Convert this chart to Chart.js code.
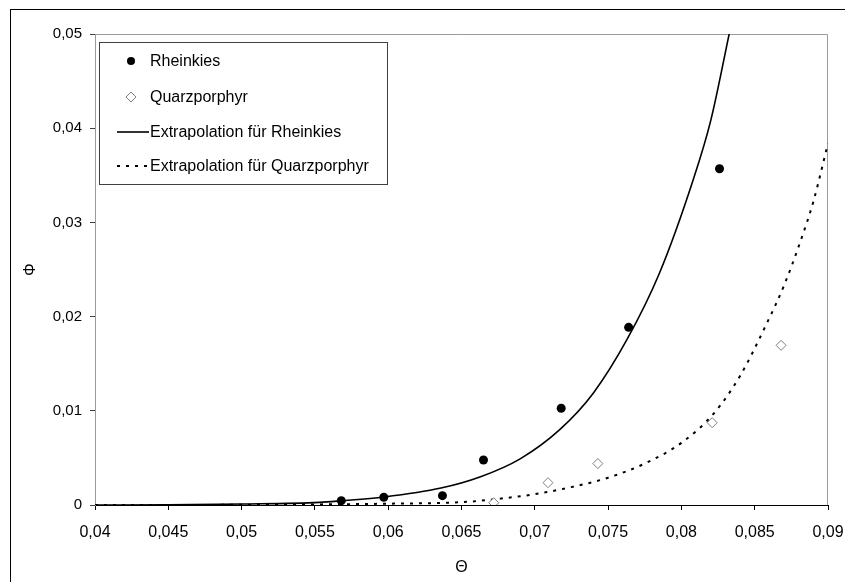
<!DOCTYPE html>
<html>
<head>
<meta charset="utf-8">
<script src="https://cdn.jsdelivr.net/npm/chart.js@4"></script>
<style>
  html, body { margin: 0; padding: 0; background: #fff; }
  #wrap { width: 845px; height: 582px; }
</style>
</head>
<body>
<div id="wrap"><canvas id="c" width="845" height="582"></canvas></div>
<script>
// Axis ticks (Θ horizontal, Φ vertical), German decimal comma
const xTickValues = [0.04, 0.045, 0.05, 0.055, 0.06, 0.065, 0.07, 0.075, 0.08, 0.085, 0.09];
const xTickLabels = ['0,04', '0,045', '0,05', '0,055', '0,06', '0,065', '0,07', '0,075', '0,08', '0,085', '0,09'];
const yTickValues = [0, 0.01, 0.02, 0.03, 0.04, 0.05];
const yTickLabels = ['0', '0,01', '0,02', '0,03', '0,04', '0,05'];

// Measured points
const rheinTheta = [0.0568, 0.0597, 0.0637, 0.0665, 0.0718, 0.0764, 0.0826];
const rheinPhi   = [0.00046, 0.00082, 0.00099, 0.00478, 0.01027, 0.01886, 0.0357];
const quarzTheta = [0.0672, 0.0709, 0.0743, 0.0821, 0.0868];
const quarzPhi   = [0.00024, 0.00237, 0.0044, 0.00874, 0.01695];

// Extrapolation curves
const rheinFitTheta = [0.04, 0.045, 0.05, 0.0553, 0.0568, 0.0597, 0.0636, 0.0663, 0.069, 0.0717, 0.074, 0.0763, 0.0785, 0.0808, 0.082, 0.0833];
const rheinFitPhi   = [0, 0.00002, 0.0001, 0.00028, 0.00045, 0.00085, 0.0018, 0.003, 0.0049, 0.008, 0.0119, 0.0176, 0.0246, 0.0345, 0.0408, 0.0503];
const quarzFitTheta = [0.04, 0.05, 0.055, 0.06, 0.065, 0.0672, 0.07, 0.0725, 0.075, 0.0775, 0.08, 0.0822, 0.084, 0.0858, 0.087, 0.0881, 0.089, 0.09];
const quarzFitPhi   = [0, 0.00002, 0.00006, 0.00014, 0.0003, 0.0006, 0.00115, 0.0019, 0.0029, 0.0044, 0.0066, 0.0097, 0.0137, 0.0192, 0.0233, 0.0279, 0.0322, 0.0384];

const seriesNames = ['Rheinkies', 'Quarzporphyr', 'Extrapolation für Rheinkies', 'Extrapolation für Quarzporphyr'];

const toXY = (xs, ys) => xs.map((x, i) => ({ x: x, y: ys[i] }));

const FONT = 'Liberation Sans, Arial, sans-serif';

// White page, outer frame, plot-area outline
const framePlugin = {
  id: 'frame',
  beforeDraw(chart) {
    const ctx = chart.ctx;
    ctx.save();
    ctx.fillStyle = '#fff';
    ctx.fillRect(0, 0, chart.width, chart.height);
    ctx.strokeStyle = '#000';
    ctx.lineWidth = 1;
    ctx.strokeRect(10.5, 9.5, 1000, 1000);
    ctx.restore();
  },
  beforeDatasetsDraw(chart) {
    const a = chart.chartArea;
    const ctx = chart.ctx;
    ctx.save();
    ctx.strokeStyle = '#9a9a9a';
    ctx.lineWidth = 1;
    ctx.beginPath();
    ctx.moveTo(a.left, a.top + 0.5);
    ctx.lineTo(a.right - 0.5, a.top + 0.5);
    ctx.lineTo(a.right - 0.5, a.bottom);
    ctx.stroke();
    ctx.restore();
  }
};

// Boxed legend inside the plot area
const boxLegend = {
  id: 'boxLegend',
  afterDatasetsDraw(chart) {
    const ctx = chart.ctx;
    const box = { x: 99.5, y: 42.5, w: 288, h: 142 };
    ctx.save();
    ctx.fillStyle = '#fff';
    ctx.fillRect(box.x, box.y, box.w, box.h);
    ctx.strokeStyle = '#404040';
    ctx.lineWidth = 1;
    ctx.strokeRect(box.x, box.y, box.w, box.h);
    const rows = [61, 97, 132, 166];
    const textX = 150, markX = 131;
    ctx.font = '16px ' + FONT;
    ctx.fillStyle = '#000';
    ctx.textBaseline = 'middle';
    ctx.textAlign = 'left';
    chart.data.datasets.forEach((ds, i) => {
      const y = rows[i];
      if (i === 0) {
        ctx.beginPath();
        ctx.fillStyle = '#000';
        ctx.arc(markX, y, 4, 0, Math.PI * 2);
        ctx.fill();
      } else if (i === 1) {
        ctx.beginPath();
        ctx.strokeStyle = '#808080';
        ctx.fillStyle = '#fff';
        ctx.moveTo(markX, y - 5);
        ctx.lineTo(markX + 5, y);
        ctx.lineTo(markX, y + 5);
        ctx.lineTo(markX - 5, y);
        ctx.closePath();
        ctx.fill();
        ctx.stroke();
      } else {
        ctx.beginPath();
        ctx.strokeStyle = '#000';
        ctx.lineWidth = ds.borderWidth;
        ctx.setLineDash(ds.borderDash || []);
        ctx.moveTo(117, y);
        ctx.lineTo(149, y);
        ctx.stroke();
        ctx.setLineDash([]);
        ctx.lineWidth = 1;
      }
      ctx.fillStyle = '#000';
      ctx.fillText(ds.label, textX, y + 1);
    });
    ctx.restore();
  }
};

new Chart(document.getElementById('c'), {
  type: 'scatter',
  data: {
    datasets: [
      {
        label: seriesNames[0],
        data: toXY(rheinTheta, rheinPhi),
        pointStyle: 'circle',
        pointRadius: 4.5,
        backgroundColor: '#000',
        borderColor: '#000',
        borderWidth: 0
      },
      {
        label: seriesNames[1],
        data: toXY(quarzTheta, quarzPhi),
        pointStyle: 'rectRot',
        pointRadius: 5,
        backgroundColor: '#fff',
        borderColor: '#808080',
        borderWidth: 1
      },
      {
        label: seriesNames[2],
        data: toXY(rheinFitTheta, rheinFitPhi),
        showLine: true,
        pointRadius: 0,
        borderColor: '#000',
        borderWidth: 1.6,
        cubicInterpolationMode: 'monotone'
      },
      {
        label: seriesNames[3],
        data: toXY(quarzFitTheta, quarzFitPhi),
        showLine: true,
        pointRadius: 0,
        borderColor: '#000',
        borderWidth: 2,
        borderDash: [3, 6],
        cubicInterpolationMode: 'monotone'
      }
    ]
  },
  options: {
    responsive: false,
    animation: false,
    devicePixelRatio: 1,
    layout: { padding: { left: 0, top: 34, right: 17, bottom: 0 } },
    plugins: { legend: { display: false }, tooltip: { enabled: false } },
    scales: {
      x: {
        type: 'linear',
        min: 0.04,
        max: 0.09,
        afterBuildTicks(scale) { scale.ticks = xTickValues.map(v => ({ value: v })); },
        afterFit(scale) { scale.height = 77; scale.paddingLeft = 0; scale.paddingRight = 0; },
        ticks: {
          color: '#000',
          font: { family: FONT, size: 16 },
          padding: 13,
          maxRotation: 0,
          autoSkip: false,
          callback: (v, i) => xTickLabels[i]
        },
        grid: { drawOnChartArea: false, tickLength: 5, color: '#000' },
        border: { color: '#000', width: 1 },
        title: {
          display: true,
          text: 'Θ',
          color: '#000',
          font: { family: FONT, size: 16 },
          padding: { top: 0, bottom: 5 }
        }
      },
      y: {
        type: 'linear',
        min: 0,
        max: 0.05,
        afterBuildTicks(scale) { scale.ticks = yTickValues.map(v => ({ value: v })); },
        afterFit(scale) { scale.width = 95; scale.paddingTop = 0; scale.paddingBottom = 0; },
        ticks: {
          color: '#000',
          font: { family: FONT, size: 15 },
          padding: 8,
          autoSkip: false,
          callback: (v, i) => yTickLabels[i]
        },
        grid: { drawOnChartArea: false, tickLength: 5, color: '#404040' },
        border: { color: '#9a9a9a', width: 1 },
        title: {
          display: true,
          text: 'Φ',
          color: '#000',
          font: { family: FONT, size: 16 },
          padding: { top: 21, bottom: 0 }
        }
      }
    }
  },
  plugins: [framePlugin, boxLegend]
});
</script>
</body>
</html>
